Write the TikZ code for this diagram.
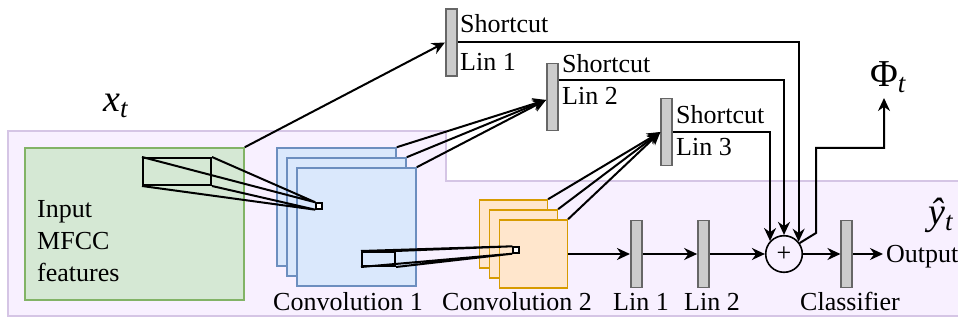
\documentclass[tikz,border=0pt]{standalone}
\usepackage{fontspec}
\newfontfamily\lserif{Liberation Serif}
\usetikzlibrary{arrows.meta,calc}
\definecolor{bgfill}{HTML}{F8F0FF}
\definecolor{bgline}{HTML}{D5C5E5}
\definecolor{gfill}{HTML}{D5E8D4}
\definecolor{gline}{HTML}{82B366}
\definecolor{bfill}{HTML}{DAE8FC}
\definecolor{bline}{HTML}{6C8EBF}
\definecolor{ofill}{HTML}{FFE6CC}
\definecolor{oline}{HTML}{D79B00}
\definecolor{barfill}{HTML}{CCCCCC}
\definecolor{barline}{HTML}{666666}
\newcommand\mysub[1]{\raisebox{-6pt}{\lserif\fontsize{27}{27}\selectfont\itshape #1}}
\begin{document}
\begin{tikzpicture}[x=1pt,y=-1pt,
  lbl/.style={font=\lserif\fontsize{26}{30}\selectfont, inner sep=0pt},
  mlbl/.style={font=\lserif\fontsize{38}{40}\selectfont, inner sep=0pt},
  barbox/.style={draw=barline, fill=barfill, line width=1.7pt, minimum width=11pt, minimum height=67pt, inner sep=0pt},
  arr/.style={-{Stealth[length=13pt,width=12pt]}, line width=2pt},
  ln/.style={line width=2pt},
  bsq/.style={draw=bline, fill=bfill, line width=1.6pt, minimum width=119pt, minimum height=118pt, inner sep=0pt},
  osq/.style={draw=oline, fill=ofill, line width=1.6pt, minimum width=68pt, minimum height=68pt, inner sep=0pt},
  tiny/.style={draw, fill=white, line width=1.4pt, minimum size=6pt, inner sep=0pt},
  frustum/.style={draw, line width=2pt, inner sep=0pt}
]
\useasboundingbox (0,0) rectangle (958,320);
% background region
\draw[bgline, fill=bgfill, line width=1.6pt] (8,131) -- (446,131) -- (446,181) -- (962,181) -- (962,316) -- (8,316) -- cycle;

% input
\node[draw=gline, fill=gfill, line width=1.6pt, minimum width=219pt, minimum height=152pt, inner sep=0pt] (inp) at (134.5,224) {};
\node[lbl, anchor=base west] (inp1) at (37,218) {Input};
\node[lbl, anchor=base west] (inp2) at (37,250) {MFCC};
\node[lbl, anchor=base west] (inp3) at (37,282) {features};
\node[frustum, minimum width=68pt, minimum height=27pt] (r1) at (177,171.5) {};

% conv 1
\node[bsq] (c1a) at (336.5,207) {};
\node[bsq] (c1b) at (346.5,217) {};
\node[bsq] (c1c) at (356.5,227) {};
\node[tiny] (s1) at (319,206) {};
\draw[ln] (r1.north west) -- (s1.north west) (r1.north east) -- (s1.north west)
          (r1.south west) -- (s1.south west) (r1.south east) -- (s1.south west);
\node[frustum, minimum width=33pt, minimum height=14pt] (r2) at (378.5,259) {};

% conv 2
\node[osq] (c2a) at (513.3,234) {};
\node[osq] (c2b) at (523.3,244) {};
\node[osq] (c2c) at (533.3,254) {};
\node[tiny] (s2) at (516,250) {};
\draw[ln] (r2.north west) -- (s2.north west) (r2.north east) -- (s2.north west)
          (r2.south west) -- (s2.south west) (r2.south east) -- (s2.south west);

% bars
\node[barbox] (sc1) at (451.3,42.5) {};
\node[barbox] (sc2) at (552.3,97) {};
\node[barbox] (sc3) at (666.7,132) {};
\node[barbox] (lin1) at (636.3,254) {};
\node[barbox] (lin2) at (703.5,254) {};
\node[barbox] (cls) at (846.8,254) {};
\node[draw, circle, line width=1.6pt, minimum size=36.6pt, inner sep=0pt, font=\lserif\fontsize{26}{26}\selectfont] (plus) at (784,254) {+};

% labels
\node[lbl, anchor=base west] (t1a) at (460,33) {Shortcut};
\node[lbl, anchor=base west] (t1b) at (460,71) {Lin 1};
\node[lbl, anchor=base west] (t2a) at (562,72.7) {Shortcut};
\node[lbl, anchor=base west] (t2b) at (562,105) {Lin 2};
\node[lbl, anchor=base west] (t3a) at (676,124) {Shortcut};
\node[lbl, anchor=base west] (t3b) at (676,156) {Lin 3};
\node[lbl, anchor=base] (lc1) at (348,310) {Convolution 1};
\node[lbl, anchor=base] (lc2) at (517,310) {Convolution 2};
\node[lbl, anchor=base] (ll1) at (641,310) {Lin 1};
\node[lbl, anchor=base] (ll2) at (712,310) {Lin 2};
\node[lbl, anchor=base] (lcl) at (850,310) {Classifier};
\node[lbl, anchor=base west] (out) at (886,262) {Output};
\node[mlbl, anchor=base west] (xt) at (103,112) {\itshape x\mysub{t}};
\node[mlbl, anchor=base west] (phi) at (870,87) {Φ\mysub{t}};
\node[mlbl, anchor=base west] (yt) at (928,225) {\itshape ŷ\mysub{t}};

% main chain
\draw[arr] (c2c.east) -- (lin1.west);
\draw[arr] (lin1.east) -- (lin2.west);
\draw[arr] (lin2.east) -- (plus.west);
\draw[arr] (plus.east) -- (cls.west);
\draw[arr] (cls.east) -- ([xshift=-3pt]out.west |- cls.east);

% shortcut inputs
\draw[arr] (inp.north east) -- (sc1.west);
\draw[arr] (c1a.north east) -- ($(sc2.west)+(0,3)$);
\draw[arr] (c1b.north east) -- ($(sc2.west)+(0,3)$);
\draw[arr] (c1c.north east) -- ($(sc2.west)+(0,3)$);
\draw[arr] (c2a.north east) -- (sc3.west);
\draw[arr] (c2b.north east) -- (sc3.west);
\draw[arr] (c2c.north east) -- (sc3.west);

% shortcut outputs
\draw[arr] (sc1.east) -| (plus.40);
\draw[arr] ($(sc2.east)+(0,-17)$) -| (plus.north);
\draw[arr] (sc3.east) -| (plus.137);

% phi output
\coordinate (b1) at (816,233);
\coordinate (b2) at (816,148);
\coordinate (phiin) at (884,98);
\draw[arr] (plus.35) -- (b1) -- (b2) -| (phiin);
\end{tikzpicture}
\end{document}
